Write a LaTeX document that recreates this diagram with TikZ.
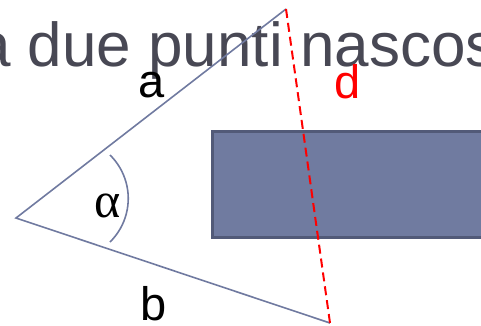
\documentclass[tikz,border=0pt]{standalone}
\usepackage{fontspec}
\setmainfont{Liberation Sans}
\newfontfamily\greekfont{Liberation Serif}
\usetikzlibrary{positioning}
\definecolor{slateline}{RGB}{112,122,160}
\definecolor{slatefill}{RGB}{112,123,160}
\definecolor{slatedark}{RGB}{82,90,120}
\definecolor{titlegray}{RGB}{72,72,84}
\tikzset{
  side/.style={draw=slateline, line width=1.6pt},
  dline/.style={draw=red, line width=2pt, dash pattern=on 9pt off 5pt},
  block/.style={rectangle, draw=slatedark, fill=slatefill, line width=3pt, inner sep=0pt},
  lbl/.style={font=\fontsize{47}{50}\selectfont, anchor=base},
  title/.style={font=\fontsize{62}{64}\selectfont, text=titlegray, anchor=base west, inner sep=0pt}
}
\begin{document}
\begin{tikzpicture}[x=1pt, y=-1pt]
 \useasboundingbox (0,0) rectangle (481,325);
 \clip (0,0) rectangle (481,325);
 \node[title] (head) at (-24,66) {a due punti nascos};

 \coordinate (v) at (16,218);
 \coordinate (t) at (286,9);
 \coordinate (u) at (330,323);

 \node[block, minimum width=270pt, minimum height=106pt, anchor=north west] (box) at (211,130) {};

 \draw[side] (t) -- (v) -- (u);
 \draw[dline] (t) -- (u);
 \draw[side] (110,155) arc[start angle=-45.5, end angle=45.5, radius=61];

 \node[lbl] (la) at (152,97) {a};
 \node[lbl] (lb) at (154,320) {b};
 \node[lbl, text=red] (ld) at (348,98) {d};
 \node[font=\greekfont\fontsize{50}{52}\selectfont, anchor=base] (alpha) at (108,217) {α};
\end{tikzpicture}
\end{document}
